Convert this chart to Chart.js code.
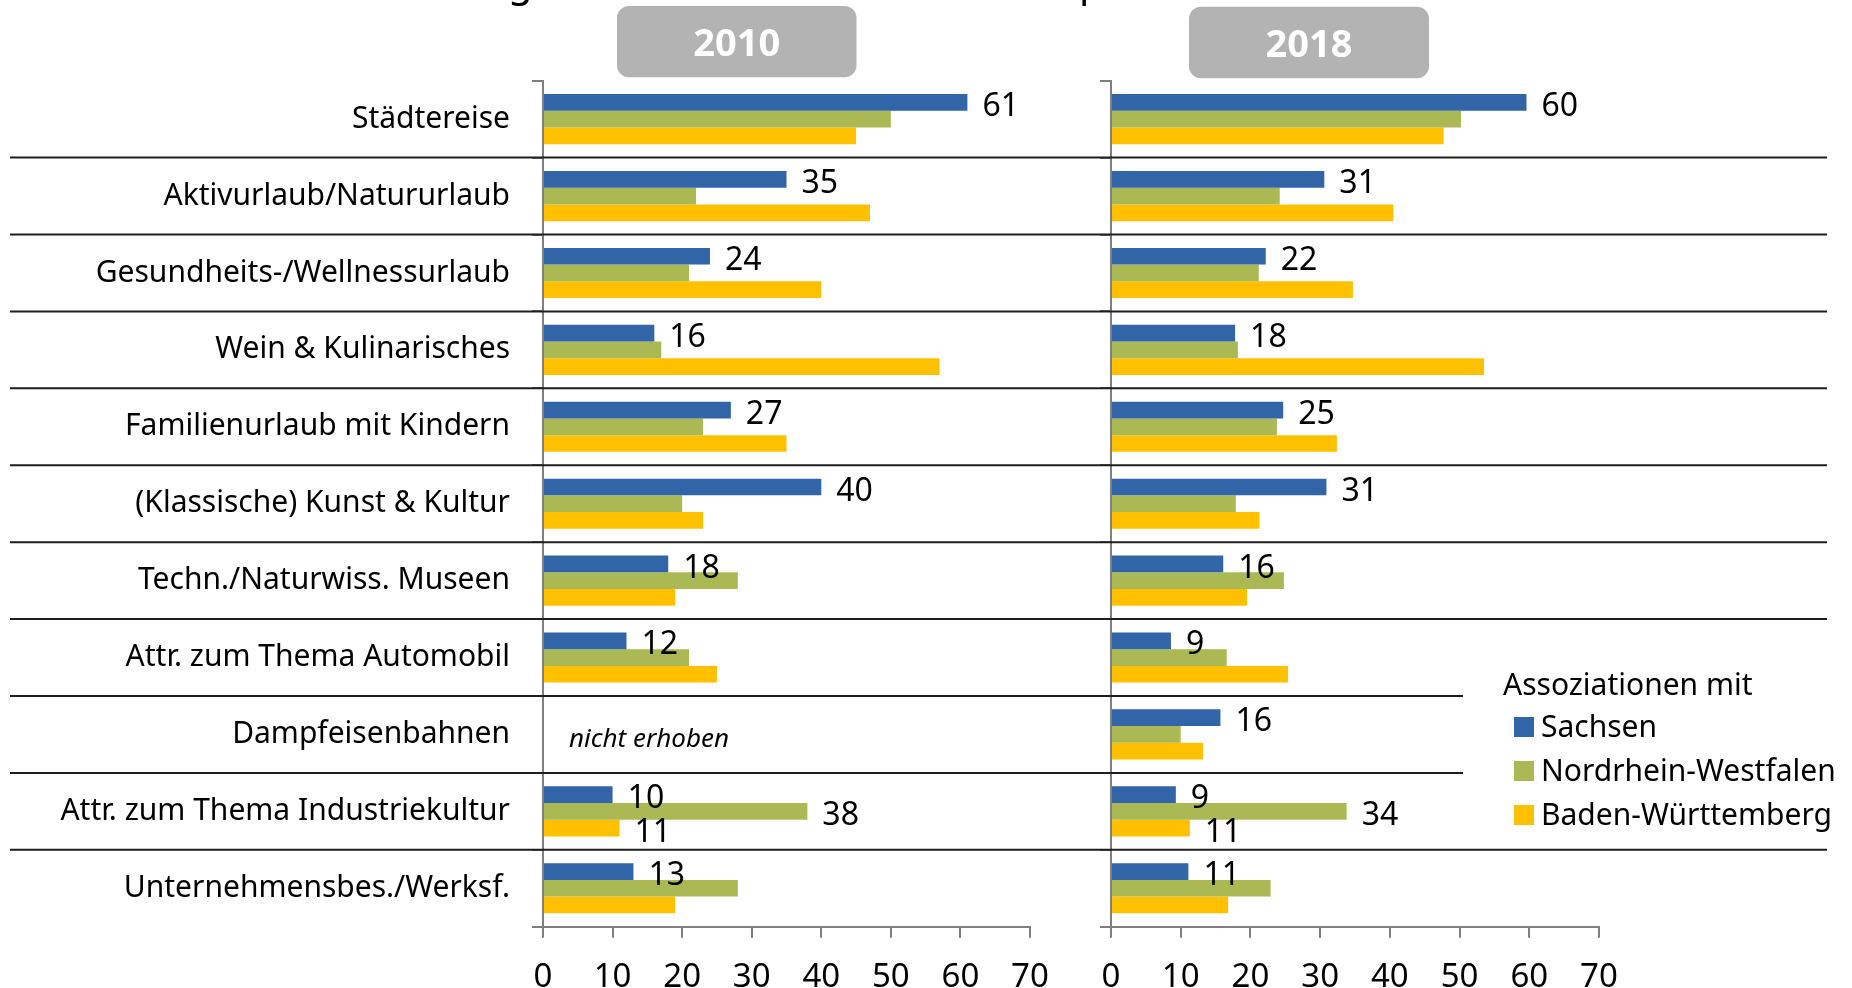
<!DOCTYPE html>
<html><head><meta charset="utf-8">
<script src="https://cdn.jsdelivr.net/npm/chart.js@4.4.1/dist/chart.umd.min.js"></script>
<style>
html,body{margin:0;padding:0;background:#fff;width:1852px;height:988px;overflow:hidden;}
canvas{position:absolute;top:0;}
#c2010{left:0;}
#c2018{left:1075px;}
</style></head><body>
<canvas id="c2010" width="1075" height="988"></canvas>
<canvas id="c2018" width="777" height="988"></canvas>
<script>
// ---------- data ----------
const categories = [
  'Städtereise',
  'Aktivurlaub/Natururlaub',
  'Gesundheits-/Wellnessurlaub',
  'Wein & Kulinarisches',
  'Familienurlaub mit Kindern',
  '(Klassische) Kunst & Kultur',
  'Techn./Naturwiss. Museen',
  'Attr. zum Thema Automobil',
  'Dampfeisenbahnen',
  'Attr. zum Thema Industriekultur',
  'Unternehmensbes./Werksf.'
];
const seriesNames = ['Sachsen', 'Nordrhein-Westfalen', 'Baden-Württemberg'];
const yearLabels = ['2010', '2018'];

const sachsen2010 = [61, 35, 24, 16, 27, 40, 18, 12, null, 10, 13];
const nrw2010     = [50, 22, 21, 17, 23, 20, 28, 21, null, 38, 28];
const bw2010      = [45, 47, 40, 57, 35, 23, 19, 25, null, 11, 19];

const sachsen2018 = [59.6, 30.6, 22.2, 17.8, 24.7, 30.9, 16.1, 8.6, 15.7, 9.3, 11.1];
const nrw2018     = [50.2, 24.2, 21.2, 18.2, 23.8, 17.9, 24.8, 16.6, 10.0, 33.8, 22.9];
const bw2018      = [47.7, 40.5, 34.7, 53.5, 32.4, 21.3, 19.5, 25.4, 13.2, 11.3, 16.8];

const xTickValues = [0, 10, 20, 30, 40, 50, 60, 70];
const allValuesLabelled = 'Attr. zum Thema Industriekultur';
const notSurveyedCategory = 'Dampfeisenbahnen';
const notSurveyedText = 'nicht erhoben';
const legendTitle = 'Assoziationen mit';
const titleFragments = ['g', 'p'];

// ---------- rendering ----------
Chart.defaults.font.family = '"Noto Sans", "Open Sans", sans-serif';
Chart.defaults.color = '#000';

const COLORS = ['#3264a8', '#abb955', '#ffc000'];
const FONT = '"Noto Sans", "Open Sans", sans-serif';

const valueLabels = {
  id: 'valueLabels',
  afterDatasetsDraw(chart) {
    const ctx = chart.ctx;
    ctx.save();
    ctx.font = '32px ' + FONT;
    ctx.fillStyle = '#000';
    ctx.textAlign = 'left';
    ctx.textBaseline = 'middle';
    chart.data.datasets.forEach((ds, di) => {
      const meta = chart.getDatasetMeta(di);
      meta.data.forEach((bar, i) => {
        const v = ds.data[i];
        if (v === null || v === undefined) return;
        if (di > 0 && chart.data.labels[i] !== allValuesLabelled) return;
        ctx.fillText(String(Math.round(v)), bar.x + 15, bar.y + 4.5);
      });
    });
    ctx.restore();
  }
};

const decor = {
  id: 'decor',
  afterDraw(chart, args, o) {
    const ctx = chart.ctx;
    const ys = chart.scales.y;
    const n = chart.data.labels.length;
    const step = (ys.bottom - ys.top) / n;
    ctx.save();
    // separators
    ctx.strokeStyle = '#1e1e1e';
    ctx.lineWidth = 2;
    for (let k = 1; k < n; k++) {
      const y = ys.top + k * step;
      const xr = (o.shortEnds && o.shortEnds.includes(k)) ? o.shortRight : o.sepRight;
      ctx.beginPath();
      ctx.moveTo(o.sepLeft, y);
      ctx.lineTo(xr, y);
      ctx.stroke();
    }
    // year box
    ctx.fillStyle = '#b3b3b4';
    ctx.beginPath();
    ctx.roundRect(o.box.x, o.box.y, o.box.w, o.box.h, 12);
    ctx.fill();
    ctx.fillStyle = '#fff';
    ctx.font = 'bold 38px ' + FONT;
    ctx.textAlign = 'center';
    ctx.textBaseline = 'middle';
    ctx.fillText(o.year, o.box.x + o.box.w / 2, o.box.y + 39);
    // cut-off title fragments
    if (o.fragments) {
      ctx.fillStyle = '#000';
      ctx.font = '40px ' + FONT;
      ctx.textAlign = 'left';
      ctx.textBaseline = 'alphabetic';
      o.fragments.forEach(f => ctx.fillText(f.t, f.x, -4.5));
    }
    // not surveyed
    if (o.notSurveyed) {
      const idx = chart.data.labels.indexOf(notSurveyedCategory);
      ctx.fillStyle = '#000';
      ctx.font = 'italic 26px ' + FONT;
      ctx.textAlign = 'left';
      ctx.textBaseline = 'middle';
      ctx.fillText(notSurveyedText, chart.chartArea.left + 26, ys.getPixelForValue(idx) + 5.5);
    }
    // legend
    if (o.legend) {
      const L = o.legend;
      ctx.fillStyle = '#000';
      ctx.font = '30px ' + FONT;
      ctx.textAlign = 'left';
      ctx.textBaseline = 'middle';
      ctx.fillText(legendTitle, L.x, L.y + 1.5);
      chart.data.datasets.forEach((ds, i) => {
        const cy = L.y + 42 + i * 44;
        ctx.fillStyle = ds.backgroundColor;
        ctx.fillRect(L.x + 11, cy - 10, 20, 20);
        ctx.fillStyle = '#000';
        ctx.fillText(ds.label, L.x + 38, cy + 1.5);
      });
    }
    ctx.restore();
  }
};

function makeChart(id, values, cfg) {
  const datasets = values.map((arr, i) => ({
    label: seriesNames[i],
    data: arr,
    backgroundColor: COLORS[i],
    borderWidth: 0,
    categoryPercentage: 0.652,
    barPercentage: 1.0
  }));
  return new Chart(document.getElementById(id), {
    type: 'bar',
    data: { labels: categories, datasets },
    plugins: [valueLabels, decor],
    options: {
      indexAxis: 'y',
      responsive: false,
      animation: false,
      devicePixelRatio: 1,
      layout: { padding: { top: 80.7, right: cfg.padRight, bottom: 0, left: 0 } },
      plugins: {
        legend: { display: false },
        tooltip: { enabled: false },
        decor: cfg.decor
      },
      scales: {
        x: {
          type: 'linear',
          min: 0, max: 70,
          afterBuildTicks: s => { s.ticks = xTickValues.map(v => ({ value: v })); },
          afterFit: s => { s.height = 988 - 926.7; },
          ticks: { font: { size: 33 }, color: '#000', padding: 20, maxRotation: 0, autoSkip: false },
          grid: { drawOnChartArea: false, drawTicks: true, tickLength: 11, color: '#7f7f7f', lineWidth: 2 },
          border: { display: true, color: '#7f7f7f', width: 2 }
        },
        y: {
          type: 'category',
          afterFit: s => { s.width = cfg.yWidth; },
          ticks: { display: cfg.showLabels, font: { size: 30 }, color: '#000', padding: 22, autoSkip: false },
          grid: { offset: true, drawOnChartArea: false, drawTicks: true, tickLength: 11, color: '#7f7f7f', lineWidth: 2 },
          border: { display: true, color: '#7f7f7f', width: 2 }
        }
      }
    }
  });
}

makeChart('c2010', [sachsen2010, nrw2010, bw2010], {
  padRight: 45, yWidth: 543, showLabels: true,
  decor: {
    year: yearLabels[0],
    box: { x: 617, y: 6, w: 239.5, h: 71.3 },
    sepLeft: 10, sepRight: 1075,
    fragments: [{ t: titleFragments[0], x: 508 }],
    notSurveyed: true
  }
});

makeChart('c2018', [sachsen2018, nrw2018, bw2018], {
  padRight: 253, yWidth: 36, showLabels: false,
  decor: {
    year: yearLabels[1],
    box: { x: 114, y: 6.7, w: 240, h: 71.6 },
    sepLeft: 0, sepRight: 752, shortEnds: [8, 9], shortRight: 388,
    fragments: [{ t: titleFragments[1], x: 4 }],
    legend: { x: 428, y: 685 }
  }
});
</script>
</body></html>
